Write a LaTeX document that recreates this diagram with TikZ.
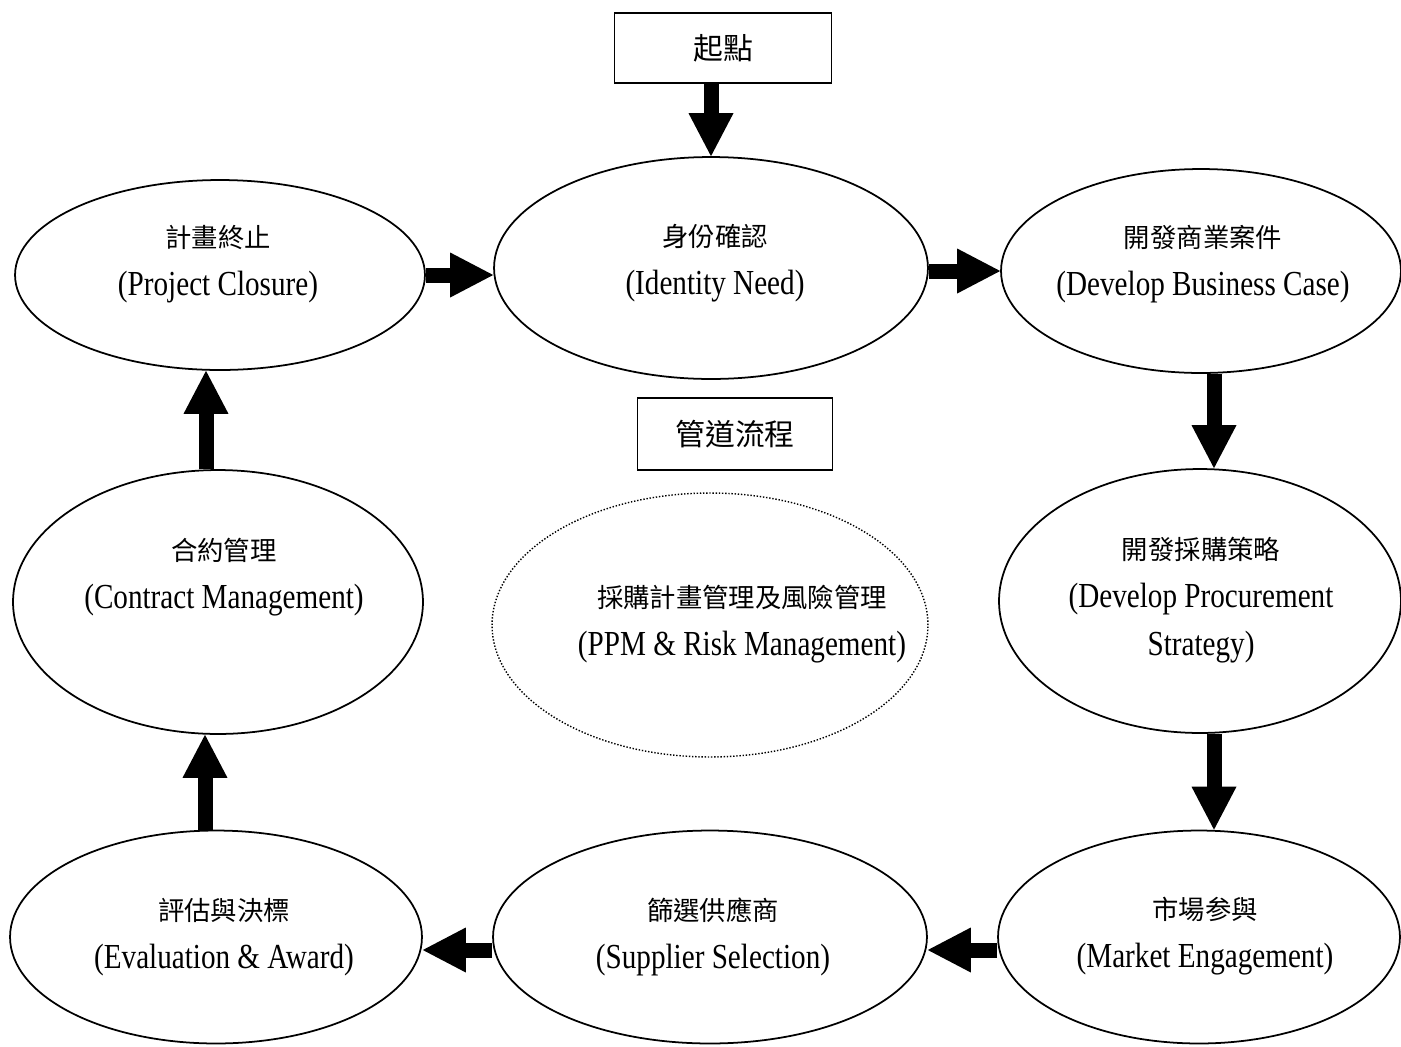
\documentclass[tikz,border=0pt]{standalone}
\usepackage{fontspec}
\setmainfont{Liberation Serif}[FakeStretch=0.83]
\newfontfamily\cjk{Noto Sans CJK TC}
\usetikzlibrary{positioning, arrows.meta, shapes.geometric}

\begin{document}
\begin{tikzpicture}[
        x=0.02cm, y=-0.02cm,
        stage/.style={ellipse, draw, line width=1pt, inner sep=0pt},
        stagetxt/.style={align=center, inner sep=0pt, font=\fontsize{20}{27.2}\selectfont},
        titlebox/.style={rectangle, draw, line width=1pt, font=\cjk\fontsize{17}{20}\selectfont},
        flow/.style={line width=0.3cm, -{Triangle[width=0.9cm, length=0.86cm, line width=0pt]}},
    ]
    \useasboundingbox (0,0) rectangle (1401,1046);

        % Draw the title boxes
        \node[titlebox, minimum width=4.34cm, minimum height=1.4cm] (start) at (723,48) {起點};
        \node[titlebox, minimum width=3.9cm, minimum height=1.44cm] (pipeline) at (735,434) {管道流程};

        % Draw the stages of the cycle
        \node[stage, minimum width=8.2cm, minimum height=3.8cm] (closure) at (220,275) {};
        \node[stage, minimum width=8.68cm, minimum height=4.44cm] (identity) at (711,268) {};
        \node[stage, minimum width=8.0cm, minimum height=4.08cm] (business) at (1201,271) {};
        \node[stage, minimum width=8.2cm, minimum height=5.28cm] (contract) at (218,602) {};
        \node[stage, minimum width=8.04cm, minimum height=5.28cm] (strategy) at (1200,601) {};
        \node[stage, minimum width=8.24cm, minimum height=4.26cm] (award) at (216,937) {};
        \node[stage, minimum width=8.68cm, minimum height=4.26cm] (supplier) at (710,937) {};
        \node[stage, minimum width=8.04cm, minimum height=4.26cm] (market) at (1199,937) {};
        \node[stage, line width=0.8pt, densely dotted, minimum width=8.72cm, minimum height=5.28cm] (ppm) at (710,625) {};

        % Texts of the stages
        \node[stagetxt] (closure-txt) at (218,264) {{\cjk\fontsize{15}{27.2}\selectfont 計畫終止}\\(Project Closure)};
        \node[stagetxt] (identity-txt) at (715,263) {{\cjk\fontsize{15}{27.2}\selectfont 身份確認}\\(Identity Need)};
        \node[stagetxt] (business-txt) at (1203,264) {{\cjk\fontsize{15}{27.2}\selectfont 開發商業案件}\\(Develop Business Case)};
        \node[stagetxt] (contract-txt) at (224,577) {{\cjk\fontsize{15}{27.2}\selectfont 合約管理}\\(Contract Management)};
        \node[stagetxt] (strategy-txt) at (1201,600) {{\cjk\fontsize{15}{27.2}\selectfont 開發採購策略}\\(Develop Procurement\\Strategy)};
        \node[stagetxt] (ppm-txt) at (742,624) {{\cjk\fontsize{15}{27.2}\selectfont 採購計畫管理及風險管理}\\(PPM \& Risk Management)};
        \node[stagetxt] (award-txt) at (224,937) {{\cjk\fontsize{15}{27.2}\selectfont 評估與決標}\\(Evaluation \& Award)};
        \node[stagetxt] (supplier-txt) at (713,937) {{\cjk\fontsize{15}{27.2}\selectfont 篩選供應商}\\(Supplier Selection)};
        \node[stagetxt] (market-txt) at (1205,936) {{\cjk\fontsize{15}{27.2}\selectfont 市場参與}\\(Market Engagement)};

        % Connect the stages with block arrows
        \draw[flow] (start.south -| identity.north) -- (identity.north);
        \draw[flow] (closure.east) -- (closure.east -| identity.west);
        \draw[flow] (identity.east |- business.west) -- (business.west);
        \draw[flow] ([xshift=0.26cm]business.south) -- ([xshift=0.26cm]business.south |- strategy.north);
        \draw[flow] ([xshift=0.28cm]strategy.south) -- ([xshift=0.28cm]strategy.south |- market.north);
        \draw[flow] ([yshift=-0.26cm]market.west) -- ([yshift=-0.26cm]market.west -| supplier.east);
        \draw[flow] ([yshift=-0.26cm]supplier.west) -- ([yshift=-0.26cm]supplier.west -| award.east);
        \draw[flow] ([xshift=-0.22cm]award.north) -- ([xshift=-0.22cm]award.north |- contract.south);
        \draw[flow] ([xshift=-0.24cm]contract.north) -- ([xshift=-0.24cm]contract.north |- closure.south);
\end{tikzpicture}
\end{document}
